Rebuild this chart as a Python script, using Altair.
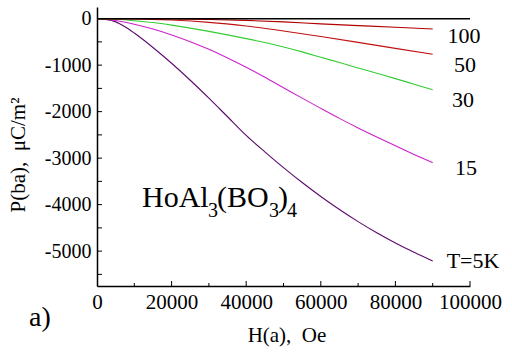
import altair as alt
import pandas as pd

# ---- data ----
H_5K = [0, 2500, 5000, 7500, 10000, 15000, 20000, 25000, 30000, 35000, 40000,
        45000, 50000, 55000, 60000, 65000, 70000, 75000, 80000, 85000, 90000]
P_5K = [0, -18, -70, -175, -310, -620, -960, -1325, -1710, -2110, -2510,
        -2865, -3205, -3525, -3825, -4105, -4365, -4605, -4825, -5025, -5210]

H_15K = [0, 5000, 10000, 15000, 20000, 25000, 30000, 35000, 40000, 45000,
         50000, 55000, 60000, 65000, 70000, 75000, 80000, 85000, 90000]
P_15K = [0, -40, -120, -225, -350, -495, -660, -845, -1045, -1260,
         -1485, -1710, -1930, -2145, -2350, -2545, -2735, -2920, -3100]

H_30K = [0, 5000, 10000, 15000, 20000, 25000, 30000, 35000, 40000, 45000,
         50000, 55000, 60000, 65000, 70000, 75000, 80000, 85000, 90000]
P_30K = [0, -15, -45, -85, -140, -205, -275, -350, -430, -515,
         -610, -715, -830, -945, -1060, -1175, -1290, -1410, -1530]

H_50K = [0, 10000, 20000, 30000, 40000, 50000, 60000, 70000, 80000, 90000]
P_50K = [0, -5, -30, -80, -160, -265, -385, -510, -640, -765]

H_100K = [0, 10000, 20000, 30000, 40000, 50000, 60000, 70000, 80000, 90000]
P_100K = [0, -2, -8, -20, -38, -70, -112, -150, -187, -222]

series_names = ["5K", "15K", "30K", "50K", "100K"]
series_colors = ["#5c0a6c", "#cc22cc", "#33cc33", "#c01010", "#b00000"]

x_major = [20000, 40000, 60000, 80000, 100000]
x_minor = [10000, 30000, 50000, 70000, 90000]
y_ticks = [-5500, -5000, -4500, -4000, -3500, -3000, -2500, -2000, -1500, -1000, -500]
x_labels = [0, 20000, 40000, 60000, 80000, 100000]
y_labels = [-5000, -4000, -3000, -2000, -1000, 0]

# ---- build table ----
rows = []
for name, hs, ps in [("5K", H_5K, P_5K), ("15K", H_15K, P_15K), ("30K", H_30K, P_30K),
                     ("50K", H_50K, P_50K), ("100K", H_100K, P_100K)]:
    for h, p in zip(hs, ps):
        rows.append({"series": name, "H": h, "P": p})
df = pd.DataFrame(rows)

W, Ht = 373, 279
FONT = "Liberation Serif, Times New Roman, serif"

xscale = alt.Scale(domain=[0, 100000], nice=False, zero=False)
yscale = alt.Scale(domain=[-5750, 250], nice=False, zero=False)

base_x = alt.X("H:Q", scale=xscale,
               axis=alt.Axis(values=x_labels, labelExpr="'' + datum.value", title=None,
                             grid=False, tickSize=0, labelPadding=5,
                             labelFont=FONT, labelFontSize=21, labelColor="black",
                             domainColor="black", domainWidth=1.5,
                             labelFlush=False, labelOverlap=False))
base_y = alt.Y("P:Q", scale=yscale,
               axis=alt.Axis(values=y_labels, labelExpr="'' + datum.value", title=None,
                             grid=False, tickSize=0, labelPadding=6,
                             labelFont=FONT, labelFontSize=20, labelColor="black",
                             domainColor="black", domainWidth=1.5,
                             labelFlush=False, labelOverlap=False))

lines = alt.Chart(df).mark_line(strokeWidth=1.1, interpolate="monotone").encode(
    x=base_x, y=base_y,
    color=alt.Color("series:N", scale=alt.Scale(domain=series_names, range=series_colors), legend=None),
    detail="series:N",
)

zero_df = pd.DataFrame({"H": [0], "H2": [100000], "P": [0]})
zero_line = alt.Chart(zero_df).mark_rule(color="black", strokeWidth=1.5).encode(
    x=alt.X("H:Q", scale=xscale), x2="H2:Q", y=alt.Y("P:Q", scale=yscale))

xmaj = alt.Chart(pd.DataFrame({"H": x_major})).mark_rule(color="black", strokeWidth=1).encode(
    x=alt.X("H:Q", scale=xscale), y=alt.value(Ht), y2=alt.value(Ht - 5))
xmin = alt.Chart(pd.DataFrame({"H": x_minor})).mark_rule(color="black", strokeWidth=1).encode(
    x=alt.X("H:Q", scale=xscale), y=alt.value(Ht), y2=alt.value(Ht - 3))
ytk = alt.Chart(pd.DataFrame({"P": y_ticks})).mark_rule(color="black", strokeWidth=1).encode(
    y=alt.Y("P:Q", scale=yscale), x=alt.value(0), x2=alt.value(5))

def txt(s, x, y, size, align="left", angle=0):
    kw = dict(font=FONT, fontSize=size, color="black", align=align, baseline="alphabetic")
    if angle:
        kw["angle"] = angle
    return alt.Chart(pd.DataFrame({"t": [s]})).mark_text(**kw).encode(
        text="t:N", x=alt.value(x), y=alt.value(y))

labels = [
    txt("100", 367, 36, 22, "center"),
    txt("50", 368, 65, 22, "center"),
    txt("30", 366, 100, 22, "center"),
    txt("15", 369, 168, 22, "center"),
    txt("T=5K", 376, 261, 22, "center"),
    txt("HoAl", 45, 200, 30),
    txt("3", 111, 210, 20),
    txt("(BO", 120, 200, 30),
    txt("3", 172, 210, 20),
    txt(")", 181, 200, 30),
    txt("4", 190, 210, 20),
    txt("H(a),\u00a0\u00a0Oe", 190, 335, 21, "center"),
    txt("a)", -68, 319, 28),
    txt("P(ba),\u00a0\u00a0\u03bcC/m\u00b2", -72, 148, 21, "center", 270),
]

chart = alt.layer(lines, zero_line, xmaj, xmin, ytk, *labels).properties(
    width=W, height=Ht,
    autosize=alt.AutoSizeParams(type="none"),
    padding={"left": 97, "top": 7, "right": 42, "bottom": 68},
    background="white",
).configure_view(stroke=None)

chart.save("out.html", embed_options={"renderer": "svg", "actions": False})
